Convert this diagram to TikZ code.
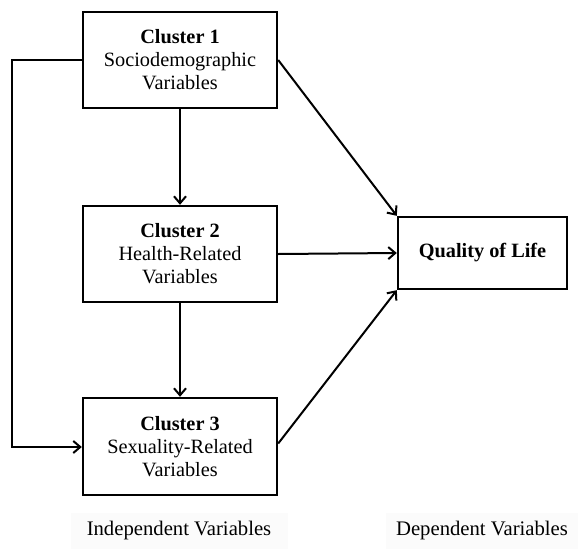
\documentclass[tikz,border=0pt]{standalone}
\usepackage{fontspec}
\setmainfont{Liberation Serif}
\usetikzlibrary{arrows.meta}
\begin{document}
\begin{tikzpicture}[x=1pt,y=-1pt,
  cbox/.style={draw,line width=2.4pt,minimum width=194pt,inner sep=0pt,align=center,font=\fontsize{20.3}{23}\selectfont},
  qbox/.style={draw,line width=2.4pt,minimum width=169pt,minimum height=72pt,inner sep=0pt,align=center,font=\fontsize{20.3}{23}\selectfont\bfseries},
  lab/.style={fill=black!1.5,inner sep=0pt,font=\fontsize{20.7}{23}\selectfont},
  arr/.style={line width=2pt,-{Straight Barb[length=7pt,width=12pt,line width=2pt]}},
  ln/.style={line width=2pt}]
\useasboundingbox (0,0) rectangle (578,549);
\node[cbox,minimum height=96pt] (c1) at (180,60) {\textbf{Cluster 1}\\Sociodemographic\\Variables};
\node[cbox,minimum height=96pt] (c2) at (180,254) {\textbf{Cluster 2}\\Health-Related\\Variables};
\node[cbox,minimum height=97pt] (c3) at (180,446.5) {\textbf{Cluster 3}\\Sexuality-Related\\Variables};
\node[qbox] (q) at (482.5,253) {Quality of Life};
\node[lab,minimum width=217pt,minimum height=36pt] (iv) at (179,531) {Independent Variables};
\node[lab,minimum width=193pt,minimum height=36pt] (dv) at (482,531) {Dependent Variables};
\draw[arr] (c1) -- (c2);
\draw[arr] (c2) -- (c3);
\draw[arr] (c2.east) -- (q.west);
\draw[arr] (c1.east) -- (q.north west);
\draw[arr] ([yshift=3pt]c3.east) -- (q.south west);
\coordinate (l1) at (12,60);
\coordinate (l2) at (12,447);
\draw[arr] (c1.west) -- (l1) -- (l2) -- (c3.west |- l2);
\end{tikzpicture}
\end{document}
